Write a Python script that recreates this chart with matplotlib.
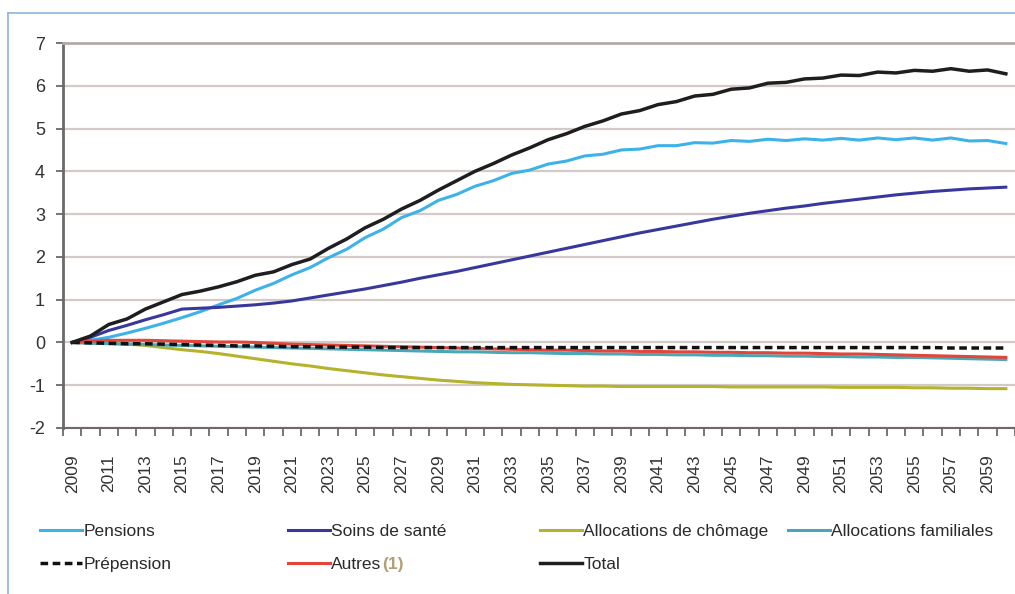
import matplotlib
matplotlib.use("Agg")
import matplotlib.pyplot as plt
from matplotlib.lines import Line2D

plt.rcParams['font.family'] = ['Liberation Sans', 'DejaVu Sans']

years = list(range(2009, 2061))

pensions = [0.00, 0.05, 0.12, 0.22, 0.33, 0.45, 0.58, 0.72, 0.88, 1.03,
            1.22, 1.38, 1.58, 1.75, 1.98, 2.18, 2.45, 2.65, 2.92, 3.08,
            3.32, 3.46, 3.65, 3.78, 3.95, 4.03, 4.17, 4.24, 4.36, 4.40,
            4.50, 4.52, 4.60, 4.60, 4.67, 4.66, 4.72, 4.70, 4.75, 4.72,
            4.76, 4.73, 4.77, 4.73, 4.78, 4.74, 4.78, 4.73, 4.78, 4.71,
            4.72, 4.65]

soins = [0.00, 0.12, 0.28, 0.40, 0.53, 0.65, 0.78, 0.80, 0.82, 0.85,
         0.88, 0.92, 0.97, 1.04, 1.11, 1.18, 1.25, 1.33, 1.41, 1.50,
         1.58, 1.66, 1.75, 1.84, 1.93, 2.02, 2.11, 2.20, 2.29, 2.38,
         2.47, 2.56, 2.64, 2.72, 2.80, 2.88, 2.95, 3.02, 3.08, 3.14,
         3.19, 3.25, 3.30, 3.35, 3.40, 3.45, 3.49, 3.53, 3.56, 3.59,
         3.61, 3.63]

chomage = [0.00, -0.01, -0.02, -0.04, -0.07, -0.12, -0.17, -0.21, -0.26, -0.32,
           -0.38, -0.44, -0.50, -0.55, -0.61, -0.66, -0.71, -0.76, -0.80, -0.84,
           -0.88, -0.91, -0.94, -0.96, -0.98, -0.99, -1.00, -1.01, -1.02, -1.02,
           -1.03, -1.03, -1.03, -1.03, -1.03, -1.03, -1.04, -1.04, -1.04, -1.04,
           -1.04, -1.04, -1.05, -1.05, -1.05, -1.05, -1.06, -1.06, -1.07, -1.07,
           -1.08, -1.08]

familiales = [0.00, -0.02, -0.03, -0.04, -0.05, -0.06, -0.07, -0.08, -0.09, -0.10,
              -0.11, -0.12, -0.13, -0.14, -0.15, -0.16, -0.17, -0.18, -0.19, -0.20,
              -0.21, -0.22, -0.22, -0.23, -0.24, -0.24, -0.25, -0.26, -0.26, -0.27,
              -0.27, -0.28, -0.28, -0.29, -0.29, -0.30, -0.30, -0.31, -0.31, -0.32,
              -0.32, -0.33, -0.33, -0.34, -0.34, -0.35, -0.35, -0.36, -0.37, -0.38,
              -0.39, -0.40]

prepension = [0.00, -0.01, -0.02, -0.03, -0.03, -0.04, -0.05, -0.06, -0.07, -0.08,
              -0.08, -0.09, -0.10, -0.10, -0.11, -0.11, -0.11, -0.12, -0.12, -0.12,
              -0.12, -0.12, -0.12, -0.12, -0.12, -0.12, -0.12, -0.12, -0.12, -0.12,
              -0.12, -0.12, -0.12, -0.12, -0.12, -0.12, -0.12, -0.12, -0.12, -0.12,
              -0.12, -0.12, -0.12, -0.12, -0.12, -0.12, -0.12, -0.12, -0.13, -0.13,
              -0.13, -0.13]

autres = [0.00, 0.03, 0.05, 0.05, 0.05, 0.04, 0.03, 0.02, 0.01, 0.01,
          0.00, -0.02, -0.04, -0.05, -0.06, -0.07, -0.08, -0.09, -0.10, -0.11,
          -0.12, -0.13, -0.14, -0.15, -0.16, -0.17, -0.18, -0.18, -0.19, -0.20,
          -0.20, -0.21, -0.21, -0.22, -0.22, -0.23, -0.23, -0.24, -0.24, -0.25,
          -0.25, -0.26, -0.27, -0.27, -0.28, -0.29, -0.30, -0.31, -0.32, -0.33,
          -0.34, -0.35]

total = [0.00, 0.15, 0.42, 0.55, 0.78, 0.95, 1.12, 1.20, 1.30, 1.42,
         1.57, 1.65, 1.82, 1.95, 2.20, 2.42, 2.68, 2.88, 3.12, 3.32,
         3.56, 3.78, 4.00, 4.18, 4.38, 4.55, 4.74, 4.88, 5.05, 5.18,
         5.34, 5.42, 5.56, 5.63, 5.76, 5.80, 5.92, 5.95, 6.06, 6.08,
         6.16, 6.18, 6.25, 6.24, 6.32, 6.30, 6.36, 6.34, 6.40, 6.34,
         6.37, 6.28]

labels = ["Pensions", "Soins de santé", "Allocations de chômage",
          "Allocations familiales", "Prépension", "Autres", "Total"]
y_ticks = [-2, -1, 0, 1, 2, 3, 4, 5, 6, 7]
x_label_years = list(range(2009, 2061, 2))

W, H = 1015, 594
fig = plt.figure(figsize=(W / 100, H / 100), dpi=100)
fig.patch.set_facecolor('white')

ax = fig.add_axes([63 / W, 1 - 428 / H, (W - 63) / W, (428 - 43) / H])
ax.set_facecolor('white')

lw = 2.2
h_pen, = ax.plot(years, pensions, color='#3db2e8', lw=lw, zorder=3)
h_soi, = ax.plot(years, soins, color='#38379c', lw=lw, zorder=3)
h_cho, = ax.plot(years, chomage, color='#b5b22e', lw=lw, zorder=3)
h_fam, = ax.plot(years, familiales, color='#4aa7b8', lw=lw, zorder=3)
h_pre, = ax.plot(years, prepension, color='#111111', lw=2.5, ls=(0, (2.2, 1.3)), zorder=4)
h_aut, = ax.plot(years, autres, color='#e2453a', lw=lw, zorder=3.5)
h_tot, = ax.plot(years, total, color='#1e1e1e', lw=2.5, zorder=5)

ax.set_xlim(2008.5, 2060.5)
ax.set_ylim(-2, 7)

ax.set_yticks(y_ticks)
ax.set_yticklabels([str(v) for v in y_ticks])
ax.yaxis.grid(True, color='#d2cac7', lw=1.6)
ax.set_axisbelow(True)

ax.set_xticks(x_label_years)
ax.set_xticklabels([str(y) for y in x_label_years], rotation=90)
ax.set_xticks([y - 0.5 for y in years] + [2060.5], minor=True)
ax.tick_params(axis='x', which='major', length=0, pad=19, labelsize=12.5,
               labelcolor='#333333')
ax.tick_params(axis='x', which='minor', length=6, width=1.3, color='#6e6868',
               direction='out')
ax.tick_params(axis='y', which='major', length=5, width=1.3, color='#6e6868',
               labelsize=13, labelcolor='#333333', pad=8)

ax.spines['right'].set_visible(False)
ax.spines['top'].set_color('#b3a9a5')
ax.spines['top'].set_linewidth(2)
ax.spines['left'].set_color('#6e6868')
ax.spines['left'].set_linewidth(2)
ax.spines['bottom'].set_color('#6e6868')
ax.spines['bottom'].set_linewidth(1.5)

# frame
fig.add_artist(Line2D([8 / W, 8 / W], [0, 1 - 13 / H], transform=fig.transFigure,
                      color='#8db4dc', lw=1.2))
fig.add_artist(Line2D([8 / W, 1], [1 - 13 / H, 1 - 13 / H], transform=fig.transFigure,
                      color='#8db4dc', lw=1.2))

# legend: four columns
leg_kw = dict(loc='upper left', frameon=False, fontsize=12.5, handlelength=2.4,
              handletextpad=0.1, labelspacing=1.0, borderpad=0, borderaxespad=0)
cols = [([h_pen, h_pre], [labels[0], labels[4]], 40),
        ([h_soi, h_aut], [labels[1], labels[5]], 288),
        ([h_cho, h_tot], [labels[2], labels[6]], 540),
        ([h_fam], [labels[3]], 788)]
legs = []
for hs, ls_, xpx in cols:
    lg = fig.legend(hs, ls_, bbox_to_anchor=(xpx / W, 1 - 524 / H), **leg_kw)
    for t in lg.get_texts():
        t.set_color('#2a2a2a')
    legs.append(lg)

fig.canvas.draw()
r = fig.canvas.get_renderer()
t_aut = legs[1].get_texts()[1]
bb = t_aut.get_window_extent(r)
fig.text((bb.x1 + 0.5) / W, (bb.y0 + bb.y1) / 2 / H, "(1)", color='#b59d76',
         fontsize=12.5, fontweight='bold', ha='left', va='center')

fig.savefig("out.png", dpi=100)
